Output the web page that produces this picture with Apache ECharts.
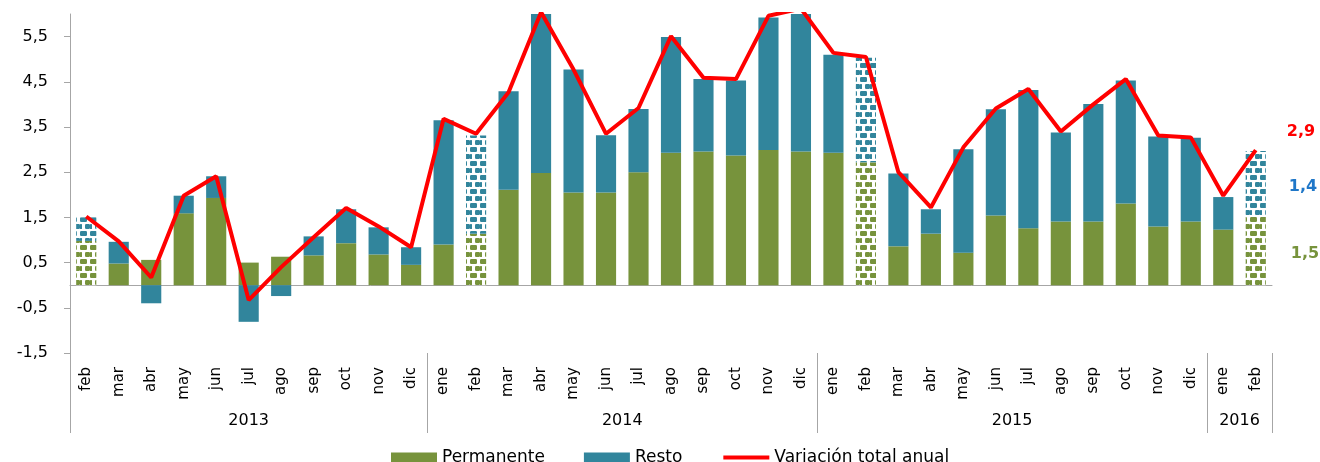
<!DOCTYPE html>
<html>
<head>
  <meta charset="utf-8">
  <title>Variación total anual</title>
  <script src="https://cdn.jsdelivr.net/npm/echarts@6/dist/echarts.min.js"></script>
  <style>
    html, body { margin: 0; padding: 0; background: #fff; }
  </style>
</head>
<body>
<div id="main" style="width:1320px;height:462px;"></div>

<script type="text/javascript">
// meses, de feb 2013 a feb 2016
var meses = ['feb','mar','abr','may','jun','jul','ago','sep','oct','nov','dic',
  'ene','feb','mar','abr','may','jun','jul','ago','sep','oct','nov','dic',
  'ene','feb','mar','abr','may','jun','jul','ago','sep','oct','nov','dic',
  'ene','feb'];
var anios = ['2013', '2014', '2015', '2016'];
var mesesPorAnio = [11, 12, 12, 2];

var permanente = [0.98, 0.48, 0.56, 1.59, 1.93, 0.50, 0.63, 0.66, 0.93, 0.68, 0.45,
  0.90, 1.14, 2.11, 2.48, 2.05, 2.05, 2.50, 2.93, 2.96, 2.87, 2.99, 2.96,
  2.93, 2.72, 0.86, 1.14, 0.72, 1.54, 1.26, 1.41, 1.41, 1.81, 1.30, 1.41,
  1.23, 1.53];
var resto = [0.52, 0.48, -0.40, 0.39, 0.48, -0.81, -0.24, 0.42, 0.75, 0.60, 0.39,
  2.75, 2.17, 2.18, 3.54, 2.72, 1.27, 1.40, 2.56, 1.60, 1.66, 2.93, 3.14,
  2.17, 2.31, 1.61, 0.54, 2.29, 2.35, 3.06, 1.97, 2.60, 2.72, 1.99, 1.85,
  0.72, 1.44];
var total = [1.52, 0.97, 0.17, 1.98, 2.41, -0.33, 0.40, 1.06, 1.71, 1.30, 0.84,
  3.68, 3.35, 4.27, 6.04, 4.77, 3.35, 3.92, 5.51, 4.59, 4.56, 5.96, 6.12,
  5.14, 5.05, 2.50, 1.72, 3.05, 3.91, 4.34, 3.40, 4.00, 4.56, 3.31, 3.27,
  1.98, 2.99];

// meses con relleno rayado (febreros)
var rayados = [0, 12, 24, 36];
var yTicks = [-1.5, -0.5, 0.5, 1.5, 2.5, 3.5, 4.5, 5.5];
// etiquetas del ultimo dato: permanente, resto, total
var etiquetasFinales = ['1,5', '1,4', '2,9'];

var VERDE = '#77933C', AZUL = '#31859C', ROJO = '#FF0000', GRIS = '#A6A6A6';
var FUENTE = 'DejaVu Sans';

var rayado = function(color){
  return {
    symbol: 'roundRect',
    symbolSize: 1,
    symbolKeepAspect: false,
    color: color,
    dashArrayX: [[7, 3], [2, 3, 5, 0]],
    dashArrayY: [5, 2]
  };
};

var barras = function(valores, color, etiqueta, offset){
  return valores.map(function(v, i){
    var d = {value: v};
    if(rayados.indexOf(i) >= 0){
      d.itemStyle = {color: '#ffffff', decal: rayado(color)};
    }
    if(i === valores.length - 1){
      d.label = {
        show: true, position: 'right', offset: offset, formatter: etiqueta,
        color: color === AZUL ? '#1F77C8' : color, fontWeight: 'bold',
        fontSize: 16, fontFamily: FUENTE
      };
    }
    return d;
  });
};

// posiciones de medio mes para el eje de anios
var slots = [], cortes = [0], centros = {};
var acum = 0;
anios.forEach(function(a, k){
  centros[acum + mesesPorAnio[k]] = a;
  acum += mesesPorAnio[k] * 2;
  cortes.push(acum);
});
for(var s = 0; s <= acum; s++){
  slots.push(centros[s] || '');
}

var myChart = echarts.init(document.getElementById('main'));

var option = {
  animation: false,
  backgroundColor: '#fff',
  grid: {left: 70, right: 48, top: 14, bottom: 109, containLabel: false, outerBoundsMode: 'none'},
  legend: {
    left: 386, top: 444,
    itemWidth: 46, itemHeight: 10, itemGap: 39,
    textStyle: {fontFamily: FUENTE, fontSize: 17, color: '#000'},
    data: [
      {name: 'Permanente', icon: 'rect'},
      {name: 'Resto', icon: 'rect'},
      {name: 'Variación total anual', itemStyle: {opacity: 0}, lineStyle: {width: 4}}
    ]
  },
  xAxis: [{
    type: 'category', data: meses, position: 'bottom',
    axisLine: {onZero: true, lineStyle: {color: GRIS, width: 1}},
    axisTick: {length: 5, interval: 0, lineStyle: {color: GRIS}},
    axisLabel: {show: false}
  }, {
    type: 'category', data: meses, position: 'bottom', offset: 0,
    axisLine: {show: false, onZero: false},
    axisTick: {length: 44, interval: 0, lineStyle: {color: GRIS}},
    axisLabel: {interval: 0, rotate: 90, margin: 14, fontFamily: FUENTE, fontSize: 15, color: '#000'}
  }, {
    type: 'category', data: slots, boundaryGap: false, position: 'bottom', offset: 0,
    axisLine: {show: false, onZero: false},
    axisTick: {length: 80, interval: function(i){ return cortes.indexOf(i) >= 0; }, lineStyle: {color: GRIS}},
    axisLabel: {interval: function(i, v){ return v !== ''; }, margin: 60, fontFamily: FUENTE, fontSize: 16, color: '#000'}
  }],
  yAxis: {
    type: 'value', min: -1.5, max: 6,
    splitLine: {show: false},
    axisLine: {show: true, lineStyle: {color: GRIS, width: 1}},
    axisTick: {show: true, length: 6, customValues: yTicks, lineStyle: {color: GRIS}},
    axisLabel: {
      customValues: yTicks, margin: 22, fontFamily: FUENTE, fontSize: 16, color: '#000',
      formatter: function(v){ return v.toFixed(1).replace('.', ','); }
    }
  },
  series: [{
    name: 'Permanente', type: 'bar', stack: 'total', clip: true,
    barCategoryGap: '38%',
    itemStyle: {color: VERDE},
    data: barras(permanente, VERDE, etiquetasFinales[0], [20, 3])
  }, {
    name: 'Resto', type: 'bar', stack: 'total', clip: true,
    barCategoryGap: '38%',
    itemStyle: {color: AZUL},
    data: barras(resto, AZUL, etiquetasFinales[1], [18, 3])
  }, {
    name: 'Variación total anual', type: 'line', clip: true,
    symbol: 'none', showSymbol: false, z: 5,
    lineStyle: {color: ROJO, width: 4},
    itemStyle: {color: ROJO},
    endLabel: {
      show: true, formatter: etiquetasFinales[2], offset: [23, -18],
      color: ROJO, fontWeight: 'bold', fontSize: 16, fontFamily: FUENTE
    },
    data: total
  }]
};

myChart.setOption(option);
</script>
</body>
</html>
